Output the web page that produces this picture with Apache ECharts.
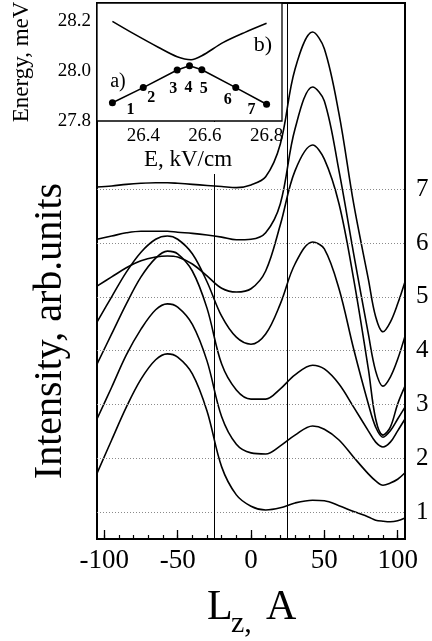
<!DOCTYPE html>
<html>
<head>
<meta charset="utf-8">
<script src="https://cdn.jsdelivr.net/npm/echarts@6/dist/echarts.min.js"></script>
<style>
html, body { margin: 0; padding: 0; background: #fff; }
#chart { width: 432px; height: 641px; }
</style>
</head>
<body>
<div id="chart"></div>
<script>
// Lz positions (Å) at which every intensity profile is sampled
const lzPoints = [-105, -95, -85, -75, -65, -57, -50, -40, -30, -20, -10, 0, 10, 20, 30, 42, 50, 60, 70, 80, 85, 90, 95, 100, 105];

// Intensity profiles, each offset onto its own level (1..7)
const profile1 = [1.72, 2.34, 2.95, 3.47, 3.83, 3.94, 3.88, 3.57, 2.88, 1.84, 1.32, 1.11, 1.04, 1.08, 1.17, 1.22, 1.21, 1.12, 1.01, 0.91, 0.85, 0.83, 0.82, 0.84, 0.89];
const profile2 = [2.73, 3.32, 3.92, 4.40, 4.76, 4.87, 4.81, 4.49, 3.81, 2.77, 2.26, 2.10, 2.08, 2.23, 2.43, 2.60, 2.54, 2.34, 2.02, 1.71, 1.58, 1.50, 1.54, 1.61, 1.73];
const profile3 = [3.75, 4.31, 4.87, 5.37, 5.72, 5.85, 5.80, 5.48, 4.79, 3.75, 3.27, 3.10, 3.10, 3.29, 3.55, 3.73, 3.66, 3.38, 2.95, 2.51, 2.30, 2.21, 2.30, 2.51, 2.73];
const profile4 = [4.53, 5.00, 5.46, 5.83, 6.07, 6.13, 6.07, 5.80, 5.28, 4.64, 4.25, 4.12, 4.31, 4.87, 5.61, 6.02, 5.89, 5.15, 4.03, 3.01, 2.58, 2.39, 2.51, 2.73, 2.95];
const profile5 = [5.20, 5.37, 5.54, 5.67, 5.74, 5.76, 5.74, 5.61, 5.39, 5.16, 5.09, 5.15, 5.48, 6.34, 7.34, 7.82, 7.56, 6.73, 5.33, 3.66, 2.73, 2.43, 2.58, 3.01, 3.34];
const profile6 = [6.07, 6.13, 6.19, 6.22, 6.22, 6.22, 6.20, 6.18, 6.15, 6.11, 6.06, 6.07, 6.19, 6.73, 8.12, 8.90, 8.64, 7.34, 5.80, 4.31, 3.62, 3.34, 3.51, 3.84, 4.27];
const profile7 = [7.04, 7.06, 7.09, 7.11, 7.12, 7.12, 7.11, 7.09, 7.07, 7.05, 7.03, 7.08, 7.23, 7.84, 9.23, 9.92, 9.61, 8.40, 6.73, 5.33, 4.63, 4.35, 4.53, 4.87, 5.28];

// Profile levels (right-hand labels and dotted baselines)
const levels = [1, 2, 3, 4, 5, 6, 7];
// Well boundaries marked by vertical lines (Å)
const wellEdges = [-25, 25];
// Lz axis ticks
const lzLabelTicks = [-100, -50, 0, 50, 100];
const lzMinorTicks = [-100, -90, -80, -70, -60, -50, -40, -30, -20, -10, 0, 10, 20, 30, 40, 50, 60, 70, 80, 90, 100];

// Inset: level energies vs electric field
const fieldKV = [26.30, 26.40, 26.51, 26.55, 26.59, 26.70, 26.80];
const lowerLevelMeV = [27.873, 27.933, 28.003, 28.020, 28.004, 27.933, 27.867];
const upperFieldKV = [26.30, 26.37, 26.45, 26.51, 26.555, 26.59, 26.66, 26.73, 26.80];
const upperLevelMeV = [28.197, 28.147, 28.093, 28.056, 28.044, 28.060, 28.113, 28.153, 28.189];
const insetFieldTicks = [26.4, 26.6, 26.8];
const insetEnergyTicks = [27.8, 28.0, 28.2];

const SERIF = "'Liberation Serif','DejaVu Serif','Times New Roman',serif";
const profiles = [profile1, profile2, profile3, profile4, profile5, profile6, profile7];

// Offsets of the point numbers around the inset markers (px)
const pointLabelOffsets = [[18, 7], [8, 10], [-4, 19], [-1, 22], [2, 19], [-8, 12], [-15, 6]];

const chart = echarts.init(document.getElementById('chart'), null, { renderer: 'canvas' });

const profileSeries = profiles.map(vals => ({
  type: 'line',
  xAxisIndex: 0,
  yAxisIndex: 0,
  data: lzPoints.map((x, j) => [x, vals[j]]),
  smooth: 0.35,
  symbol: 'none',
  lineStyle: { color: '#000', width: 1.6 },
  z: 1,
  silent: true
}));

const guideSeries = {
  type: 'line',
  xAxisIndex: 0,
  yAxisIndex: 0,
  data: [],
  z: 1,
  silent: true,
  markLine: {
    symbol: 'none',
    silent: true,
    label: { show: false },
    animation: false,
    data: levels.map(v => ({ yAxis: v, lineStyle: { color: '#8a8a8a', type: [1, 2], width: 1 } }))
      .concat(wellEdges.map(v => ({ xAxis: v, lineStyle: { color: '#000', type: 'solid', width: 1 } })))
  }
};

const insetLower = {
  type: 'line',
  xAxisIndex: 2,
  yAxisIndex: 1,
  data: fieldKV.map((x, i) => ({
    value: [x, lowerLevelMeV[i]],
    label: { offset: pointLabelOffsets[i] }
  })),
  symbol: 'circle',
  symbolSize: 7,
  itemStyle: { color: '#000' },
  lineStyle: { color: '#000', width: 1.6 },
  label: {
    show: true,
    position: 'inside',
    formatter: p => String(p.dataIndex + 1),
    fontFamily: SERIF,
    fontWeight: 'bold',
    fontSize: 16,
    color: '#000'
  },
  z: 11,
  silent: true
};

const insetUpper = {
  type: 'line',
  xAxisIndex: 2,
  yAxisIndex: 1,
  data: upperFieldKV.map((x, i) => [x, upperLevelMeV[i]]),
  smooth: 0.3,
  symbol: 'none',
  lineStyle: { color: '#000', width: 1.6 },
  z: 11,
  silent: true
};

const option = {
  animation: false,
  backgroundColor: '#fff',
  grid: [
    { left: 97, top: 3, right: 27, bottom: 102, show: true, borderColor: '#000', borderWidth: 2, z: 0 },
    { left: 97, top: 3, width: 185, height: 118, show: true, backgroundColor: '#fff', borderColor: '#000', borderWidth: 1.3, z: 9 }
  ],
  xAxis: [
    {
      type: 'value', gridIndex: 0, min: -105, max: 105, z: 3,
      axisLine: { show: false },
      splitLine: { show: false },
      axisTick: { show: true, inside: true, length: 9, customValues: lzLabelTicks, lineStyle: { color: '#000', width: 1.3 } },
      axisLabel: { customValues: lzLabelTicks, color: '#000', fontFamily: SERIF, fontSize: 27, margin: 8 }
    },
    {
      type: 'value', gridIndex: 0, min: -105, max: 105, position: 'bottom', z: 3,
      axisLine: { show: false },
      splitLine: { show: false },
      axisTick: { show: true, inside: true, length: 4, customValues: lzMinorTicks, lineStyle: { color: '#000', width: 1.2 } },
      axisLabel: { show: false }
    },
    {
      type: 'value', gridIndex: 1, min: 26.25, max: 26.85, z: 10,
      axisLine: { show: false },
      splitLine: { show: false },
      axisTick: { show: false },
      axisLabel: { customValues: insetFieldTicks, formatter: v => v.toFixed(1), color: '#000', fontFamily: SERIF, fontSize: 19, margin: 6 }
    }
  ],
  yAxis: [
    {
      type: 'value', gridIndex: 0, position: 'right', min: 0.5, max: 10.46, interval: 0.5,
      axisLine: { show: false },
      splitLine: { show: false },
      axisTick: { show: false },
      axisLabel: {
        showMaxLabel: false,
        formatter: v => (Number.isInteger(v) && v >= 1 && v <= 7) ? String(v) : '',
        color: '#000', fontFamily: SERIF, fontSize: 25, margin: 11
      }
    },
    {
      type: 'value', gridIndex: 1, min: 27.8, max: 28.27, z: 10,
      axisLine: { show: false },
      splitLine: { show: false },
      axisTick: { show: false },
      axisLabel: { customValues: insetEnergyTicks, formatter: v => v.toFixed(1), color: '#000', fontFamily: SERIF, fontSize: 19, margin: 6 }
    }
  ],
  graphic: [
    // backing for the inset's axis labels
    { type: 'rect', shape: { x: 99, y: 122, width: 160, height: 52 }, style: { fill: '#fff' }, z: 8, silent: true },
    { type: 'text', x: 22, y: 62, rotation: Math.PI / 2, z: 12,
      style: { text: 'Energy, meV', font: '23px ' + SERIF, fill: '#000', align: 'center', verticalAlign: 'middle' } },
    { type: 'text', x: 188, y: 160, z: 12,
      style: { text: 'E, kV/cm', font: '23px ' + SERIF, fill: '#000', align: 'center', verticalAlign: 'middle' } },
    { type: 'text', x: 118, y: 82, z: 12,
      style: { text: 'a)', font: '20px ' + SERIF, fill: '#000', align: 'center', verticalAlign: 'middle' } },
    { type: 'text', x: 263, y: 45, z: 12,
      style: { text: 'b)', font: '22px ' + SERIF, fill: '#000', align: 'center', verticalAlign: 'middle' } },
    { type: 'text', x: 50, y: 331, rotation: Math.PI / 2, z: 12,
      style: { text: 'Intensity, arb.units', font: '40px ' + SERIF, fill: '#000', align: 'center', verticalAlign: 'middle' } },
    { type: 'text', x: 207, y: 608, z: 12,
      style: { text: 'L', font: '42px ' + SERIF, fill: '#000', align: 'left', verticalAlign: 'middle' } },
    { type: 'text', x: 231, y: 624, z: 12,
      style: { text: 'z,', font: '30px ' + SERIF, fill: '#000', align: 'left', verticalAlign: 'middle' } },
    { type: 'text', x: 266, y: 608, z: 12,
      style: { text: 'A', font: '42px ' + SERIF, fill: '#000', align: 'left', verticalAlign: 'middle' } }
  ],
  series: profileSeries.concat([guideSeries, insetUpper, insetLower])
};

chart.setOption(option);
</script>
</body>
</html>
